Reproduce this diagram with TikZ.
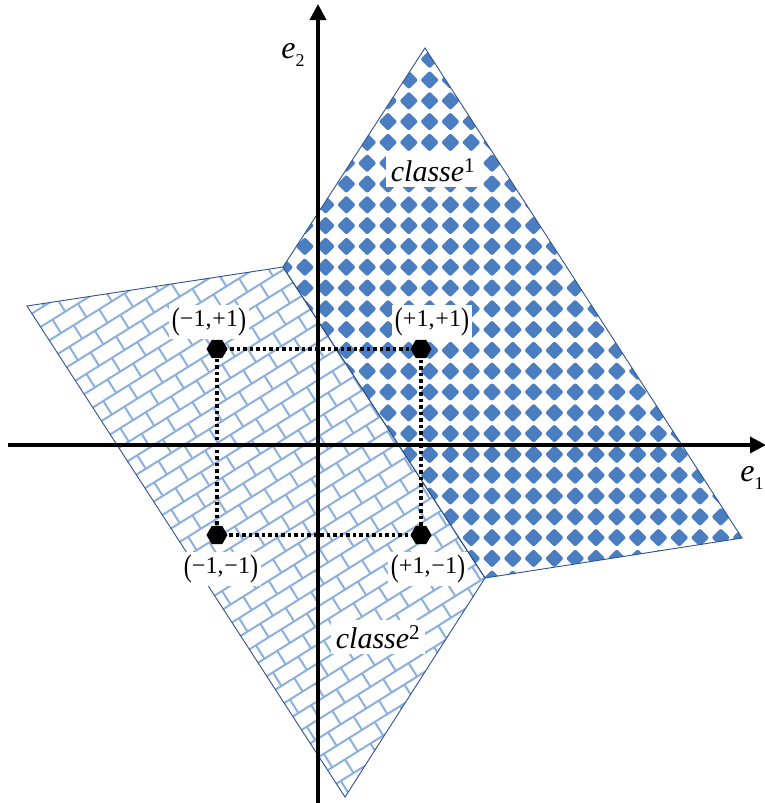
\documentclass[tikz,border=0pt]{standalone}
\usepackage{graphicx}
\usepackage{fontspec}
\setmainfont{Liberation Serif}
\usetikzlibrary{arrows.meta,shapes.geometric}
\definecolor{dia}{RGB}{74,126,192}
\definecolor{brickc}{RGB}{140,176,222}
\definecolor{edgec}{RGB}{47,82,143}
\newcommand\lpar{\raisebox{-0.14em}{\scalebox{1}[1.3]{(}}}
\newcommand\rpar{\raisebox{-0.14em}{\scalebox{1}[1.3]{)}}}
\tikzset{
  axis/.style={line width=3.5pt, -{Triangle[length=16pt,width=16pt]}},
  edgeline/.style={draw=edgec, line width=0.9pt},
  brickline/.style={draw=brickc, line width=2pt},
  dotline/.style={line width=3.5pt, dash pattern=on 3.5pt off 3pt},
  dot/.style={regular polygon, regular polygon sides=6, fill=black, minimum size=21pt, inner sep=0pt},
  lbl/.style={fill=white, inner sep=3pt, font=\fontsize{24}{26}\selectfont},
  cls/.style={fill=white, inner sep=5pt, font=\fontsize{30}{32}\selectfont},
  axlbl/.style={inner sep=0pt, font=\fontsize{32}{34}\selectfont}
}
\begin{document}
\begin{tikzpicture}[x=1pt,y=-1pt]
\useasboundingbox (0,0) rectangle (765,803);
% region vertices
\coordinate (A) at (283,267);
\coordinate (B) at (425,48);
\coordinate (C) at (742,538);
\coordinate (D) at (485,578);
\coordinate (E) at (27,306);
\coordinate (F) at (345,797);
% class 1 diamond pattern
\begin{scope}
\clip (A) -- (B) -- (C) -- (D) -- cycle;
\foreach \i in {-10,...,13}
  \foreach \j in {-17,...,9}
    \fill[dia, rounded corners=2pt] ({492+20.8*\i},{392+20.8*\j}) +(-9.3,0) -- +(0,-9.3) -- +(9.3,0) -- +(0,9.3) -- cycle;
\end{scope}
% class 2 brick pattern
\begin{scope}
\clip (E) -- (A) -- (D) -- (F) -- cycle;
\begin{scope}[shift={(256,532)}, rotate=32]
\foreach \k in {-24,...,24} {
  \draw[brickline] (-440,{\k*16}) -- (440,{\k*16});
  \foreach \m in {-15,...,15}
    \draw[brickline] ({\m*30+mod(\k+100,2)*15},{\k*16}) -- ++(0,16);
}
\end{scope}
\end{scope}
% outlines
\draw[edgeline] (A) -- (B) -- (C) -- (D) -- cycle;
\draw[edgeline] (E) -- (A) -- (D) -- (F) -- cycle;
% axes
\coordinate (xs) at (8,445);
\coordinate (xe) at (766,445);
\coordinate (ys) at (318,803);
\coordinate (ye) at (318,4);
\draw[axis] (xs) -- (xe);
\draw[axis] (ys) -- (ye);
% points
\coordinate (q1) at (217,349);
\coordinate (q2) at (421,349);
\coordinate (q3) at (217,535);
\coordinate (q4) at (421,535);
\draw[dotline] (q1) -- (q2) -- (q4) -- (q3) -- cycle;
\node[dot] (p1) at (q1) {};
\node[dot] (p2) at (q2) {};
\node[dot] (p3) at (q3) {};
\node[dot] (p4) at (q4) {};
% labels
\node[lbl] (l1) at (209,322) {\lpar−1,\kern1pt+1\rpar};
\node[lbl] (l2) at (432,322) {\lpar+1,\kern1pt+1\rpar};
\node[lbl] (l3) at (221,569) {\lpar−1,\kern1pt−1\rpar};
\node[lbl] (l4) at (428,569) {\lpar+1,\kern1pt−1\rpar};
\node[cls] (c1) at (433,170) {\textit{classe}\textsuperscript{1}};
\node[cls] (c2) at (378,637) {\textit{classe}\textsuperscript{2}};
\node[axlbl] (e2) at (293,55) {\textit{e}\raisebox{-0.25em}{\fontsize{18}{18}\selectfont 2}};
\node[axlbl] (e1) at (752,478) {\textit{e}\raisebox{-0.25em}{\fontsize{18}{18}\selectfont 1}};
\end{tikzpicture}
\end{document}
